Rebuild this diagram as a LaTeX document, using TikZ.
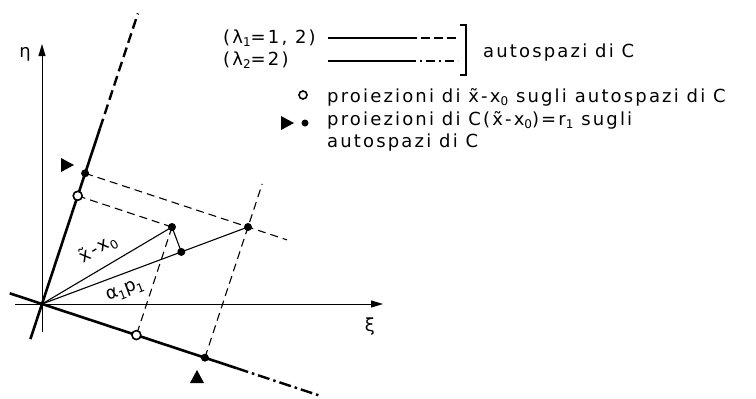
\documentclass[tikz,border=0pt]{standalone}
\usepackage{fontspec}
\setmainfont{DejaVu Sans}[LetterSpace=12]
\usetikzlibrary{arrows.meta,calc}
\newcommand{\lfont}{\fontsize{18}{20}\selectfont}
\newcommand{\lsub}[1]{\raisebox{-0.4ex}{\fontsize{12}{12}\selectfont #1}}
\newcommand{\xt}{\~{x}}
\begin{document}
\begin{tikzpicture}[x=1pt,y=-1pt,
  thk/.style={line width=2.6pt},
  thn/.style={line width=1.1pt},
  prj/.style={line width=1.1pt, dash pattern=on 8pt off 5pt},
  dsh/.style={line width=2.4pt, dash pattern=on 10pt off 5pt},
  dd/.style={line width=2.4pt, dash pattern=on 12pt off 4pt on 2.5pt off 4pt},
  lgs/.style={line width=2pt},
  lgd/.style={line width=2pt, dash pattern=on 9pt off 4pt},
  lgdd/.style={line width=2pt, dash pattern=on 9pt off 4pt on 2pt off 4pt},
  ax/.style={line width=1pt,-{Triangle[length=12pt,width=7pt]}},
  opn/.style={circle,draw,line width=1.6pt,fill=white,inner sep=0pt,minimum size=9pt},
  sld/.style={circle,fill,inner sep=0pt,minimum size=8pt},
  lbl/.style={inner sep=0pt,font=\lfont}
]
\useasboundingbox (0,0) rectangle (756,399);
% --- geometry
\coordinate (O) at (42,304);
\coordinate (XiS) at (15,304);
\coordinate (XiE) at (383,304);
\coordinate (EtS) at (42,332);
\coordinate (EtE) at (42,44);
\coordinate (L1a) at (30.4,339.1);
\coordinate (L1b) at (100.0,128.3);
\coordinate (L1c) at (137.9,13.4);
\coordinate (L2a) at (9.7,293.3);
\coordinate (L2b) at (236.7,368.2);
\coordinate (L2c) at (318.4,395.2);
\coordinate (X) at (172,227);
\coordinate (R) at (248,227);
\coordinate (A) at ($(O)!(X)!(R)$);
\coordinate (P1) at (77.7,195.8);
\coordinate (Q1) at (85.1,173.3);
\coordinate (P2) at (136.4,335.1);
\coordinate (Q2) at (204.9,357.7);
\coordinate (RE1) at ($(Q1)!1.24!(R)$);
\coordinate (RE2) at ($(Q2)!1.33!(R)$);
% axes
\draw[ax] (XiS) -- (XiE);
\draw[ax] (EtS) -- (EtE);
\node[lbl] (eta) at (25,54) {η};
\node[lbl] (xi) at (370,327) {ξ};
% eigenspaces
\draw[thk] (L1a) -- (L1b);
\draw[dsh] (L1b) -- (L1c);
\draw[thk] (L2a) -- (L2b);
\draw[dd] (L2b) -- (L2c);
% projection lines
\draw[prj] (Q1) -- (RE1);
\draw[prj] (Q2) -- (RE2);
\draw[prj] (P1) -- (X);
\draw[prj] (X) -- (P2);
% vectors
\draw[thn] (O) -- (X);
\draw[thn] (O) -- (R);
\draw[thn] (X) -- (A);
% points
\node[sld] (nX) at (X) {};
\node[sld] (nR) at (R) {};
\node[sld] (nA) at (A) {};
\node[sld] (nQ1) at (Q1) {};
\node[sld] (nQ2) at (Q2) {};
\node[opn] (nP1) at (P1) {};
\node[opn] (nP2) at (P2) {};
% triangle markers
\coordinate (T1) at (67,165);
\coordinate (T2) at (197,377);
\fill ($(T1)+(-6,-7)$) -- ($(T1)+(7,0)$) -- ($(T1)+(-6,7)$) -- cycle;
\fill ($(T2)+(0,-7)$) -- ($(T2)+(7,6)$) -- ($(T2)+(-7,6)$) -- cycle;
% labels on vectors
\node[lbl,rotate=30.6] (lx) at (98,249) {\xt-x\lsub{0}};
\node[lbl,rotate=20.5] (la) at (125,291) {α\lsub{1}p\lsub{1}};
% --- legend
\node[lbl,anchor=base west] (l1) at (223,43) {(λ\lsub{1}=1,~2)};
\node[lbl,anchor=base west] (l2) at (223,65) {(λ\lsub{2}=2)};
\coordinate (s1a) at (328,38); \coordinate (s1b) at (408,38); \coordinate (s1c) at (458,38);
\coordinate (s2a) at (328,61); \coordinate (s2b) at (407,61); \coordinate (s2c) at (458,61);
\draw[lgs] (s1a) -- (s1b);
\draw[lgd] (s1b) -- (s1c);
\draw[lgs] (s2a) -- (s2b);
\draw[lgdd] (s2b) -- (s2c);
\coordinate (b1) at (460,25); \coordinate (b2) at (466,25);
\coordinate (b3) at (466,75); \coordinate (b4) at (460,75);
\draw[line width=1.4pt] (b1) -- (b2) -- (b3) -- (b4);
\node[lbl,anchor=base west] (auto) at (483,57) {autospazi di C};
\node[opn,minimum size=8pt] (lo) at (303,95) {};
\node[lbl,anchor=base west] (r3) at (327,102) {proiezioni di \xt-x\lsub{0} sugli autospazi di C};
\coordinate (T3) at (287,123);
\fill ($(T3)+(-6,-7)$) -- ($(T3)+(7,0)$) -- ($(T3)+(-6,7)$) -- cycle;
\node[sld,minimum size=7pt] (ld) at (305,123) {};
\node[lbl,anchor=base west] (r4) at (327,125) {proiezioni di C(\xt-x\lsub{0})=r\lsub{1} sugli};
\node[lbl,anchor=base west] (r5) at (327,147) {autospazi di C};
\end{tikzpicture}
\end{document}
